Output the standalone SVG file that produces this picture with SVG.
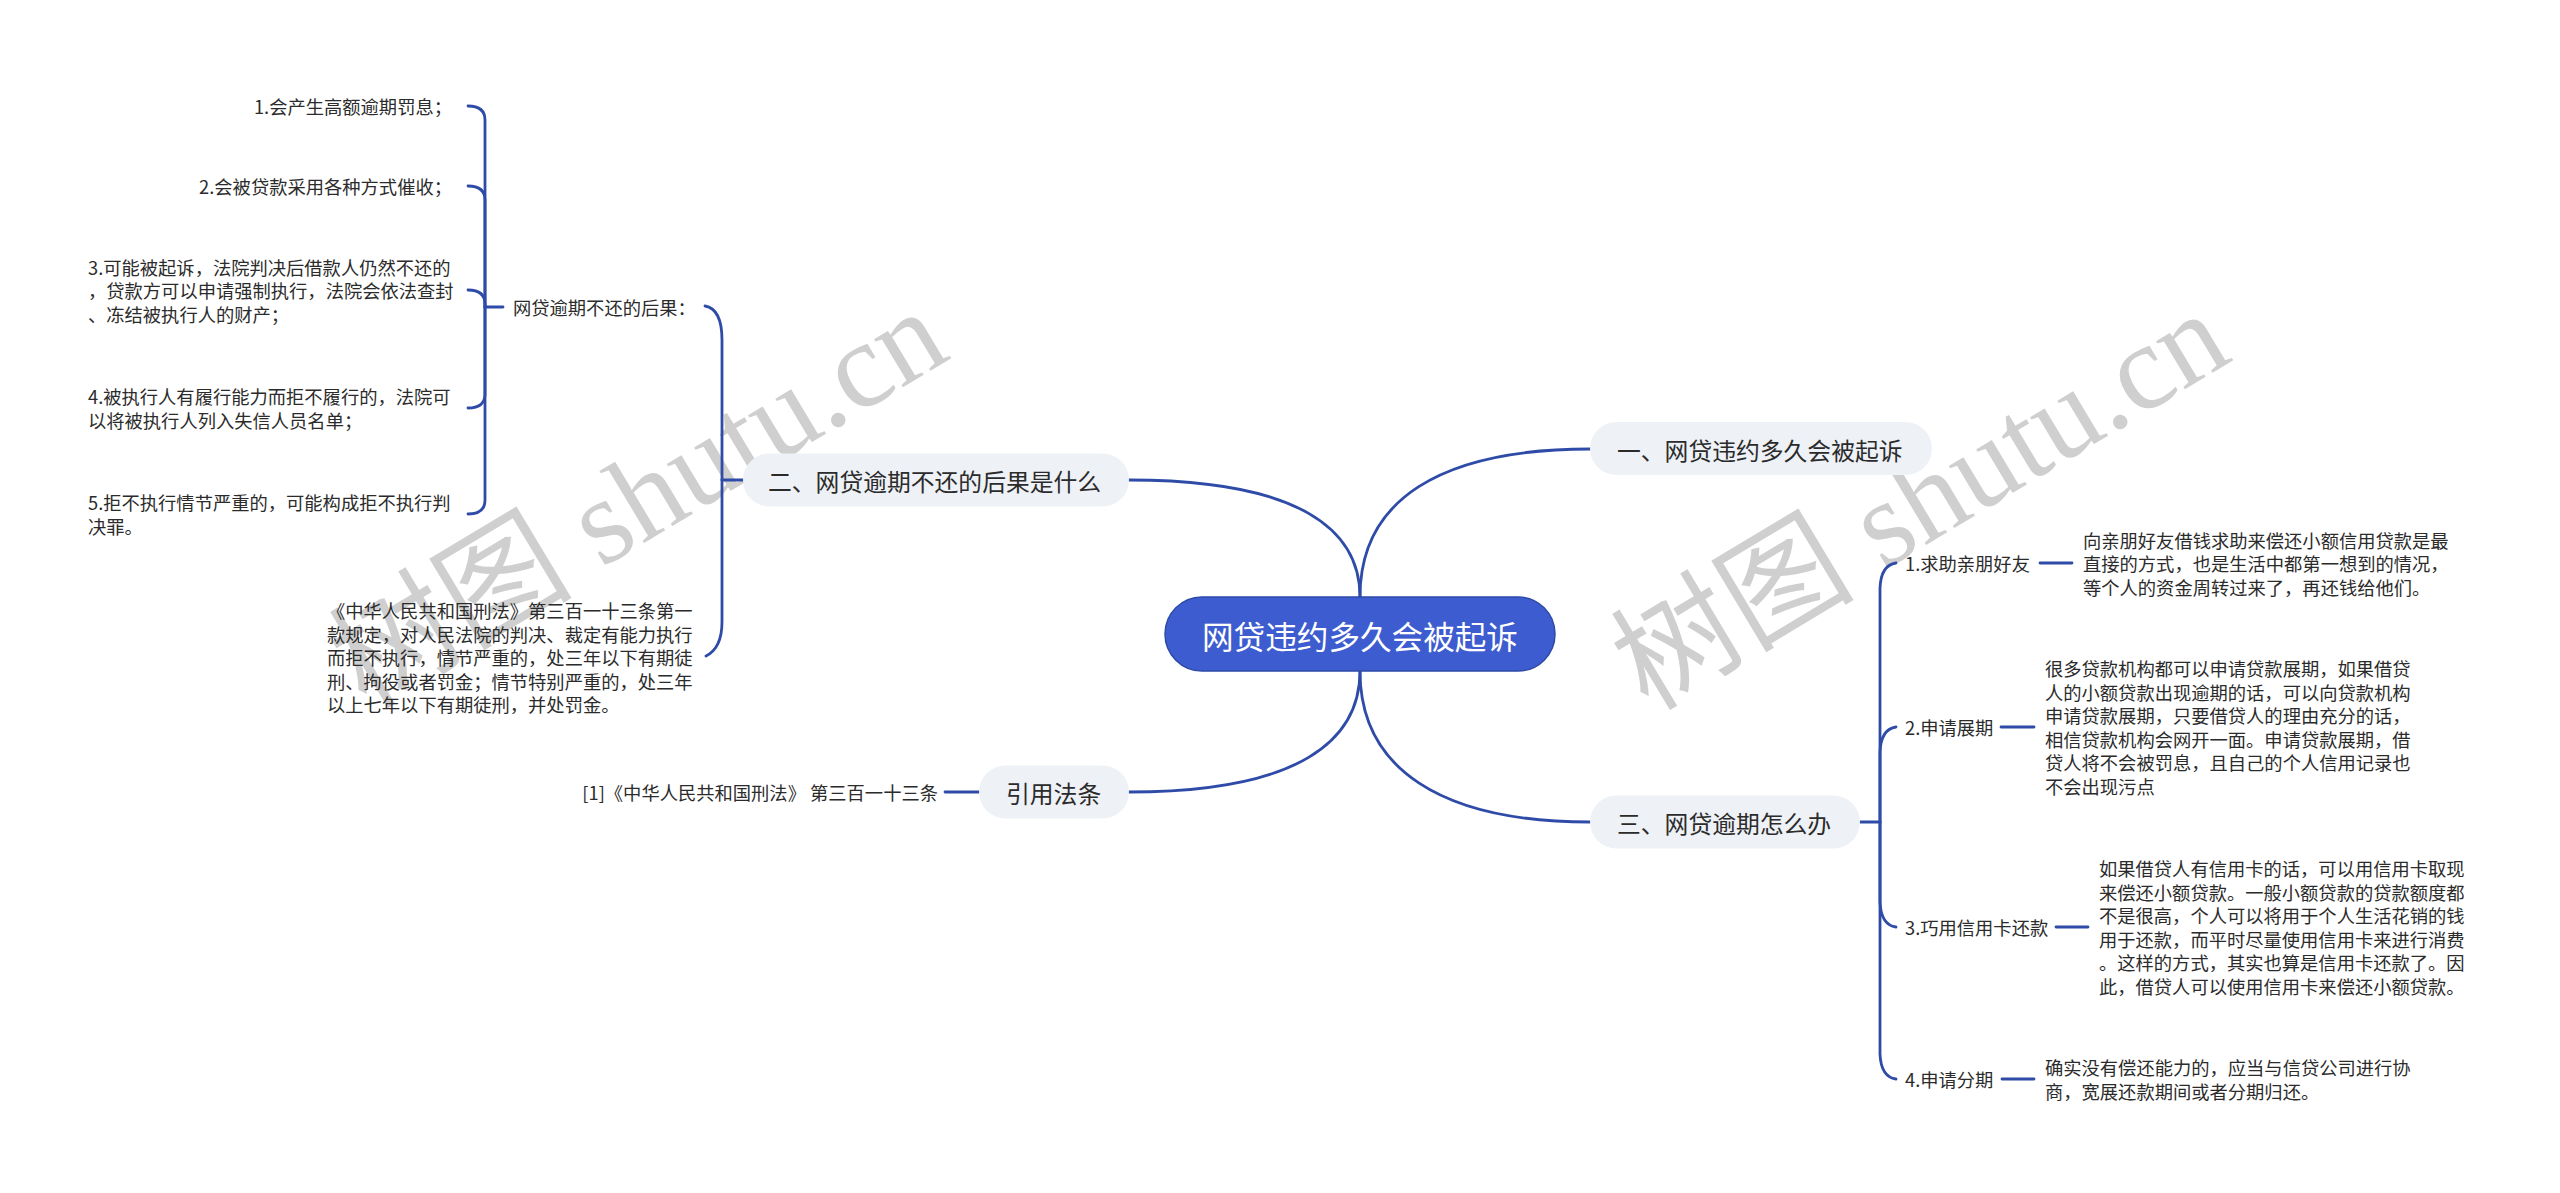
<svg xmlns="http://www.w3.org/2000/svg" width="2560" height="1193" viewBox="0 0 2560 1193">
<style>
.t{font-family:"Noto Sans CJK SC","Noto Sans",sans-serif;fill:#2b2b2b;font-size:18.3px;dominant-baseline:central}
.p{font-family:"Noto Sans CJK SC","Noto Sans",sans-serif;fill:#2b2b2b;font-size:23.8px;dominant-baseline:central}
.pill{fill:#eef1f6}
.c{fill:none;stroke:#2f4ba8;stroke-width:2.8;stroke-linecap:round}
.wm{font-family:"Liberation Serif","Noto Sans CJK SC",serif;fill:#cfcfcf;font-size:122px}
</style>
<rect width="2560" height="1193" fill="#ffffff"/>
<g id="watermarks">
<text class="wm" transform="translate(366,710) rotate(-31)">树图 shutu.cn</text>
<text class="wm" transform="translate(1648,712) rotate(-31)">树图 shutu.cn</text>
</g>
<g id="connectors">
<path class="c" d="M1360 597 C1360 500,1440 449,1590 449"/>
<path class="c" d="M1360 597 C1360 530,1300 480,1129 480"/>
<path class="c" d="M1360 671 C1360 768,1440 822,1590 822"/>
<path class="c" d="M1360 671 C1360 740,1300 792,1129 792"/>
<path class="c" d="M743 480 L722 480"/>
<path class="c" d="M722 480 L722 340 Q722 309 705 306"/>
<path class="c" d="M722 480 L722 622 Q722 648 706 656"/>
<path class="c" d="M503 307 L485 307"/>
<path class="c" d="M485 307 L485 120 Q485 106 468 106"/>
<path class="c" d="M485 307 L485 200 Q485 186 468 186"/>
<path class="c" d="M485 307 L485 304 Q485 290 468 290"/>
<path class="c" d="M485 307 L485 394 Q485 408 468 408"/>
<path class="c" d="M485 307 L485 500 Q485 514 468 514"/>
<path class="c" d="M945 792 L979 792"/>
<path class="c" d="M1860 822 L1880 822"/>
<path class="c" d="M1880 822 L1880 588 Q1881 565 1896 563"/>
<path class="c" d="M1880 822 L1880 752 Q1881 729 1896 727"/>
<path class="c" d="M1880 822 L1880 902 Q1881 925 1896 927"/>
<path class="c" d="M1880 822 L1880 1054 Q1881 1077 1896 1079"/>
<path class="c" d="M2040 563 L2072 563"/>
<path class="c" d="M2001 727 L2034 727"/>
<path class="c" d="M2056 927 L2088 927"/>
<path class="c" d="M2002 1079 L2034 1079"/>
</g>
<g id="root">
<rect x="1165" y="597" width="390" height="74" rx="37" fill="#3d5ccf" stroke="#2e4aa6" stroke-width="1.5"/>
<text x="1360" y="635" text-anchor="middle" font-family="Noto Sans CJK SC,sans-serif" font-size="31.6" fill="#ffffff" dominant-baseline="central">网贷违约多久会被起诉</text>
</g>
<g id="branch1">
<rect class="pill" x="1590" y="422" width="342" height="53" rx="26.5"/>
<text class="p" x="1617" y="449">一、网贷违约多久会被起诉</text>
</g>
<g id="branch2">
<rect class="pill" x="743" y="453.5" width="386" height="53" rx="26.5"/>
<text class="p" x="768" y="480">二、网贷逾期不还的后果是什么</text>
</g>
<g id="branch3">
<rect class="pill" x="1590" y="795.5" width="270" height="53" rx="26.5"/>
<text class="p" x="1617" y="822">三、网贷逾期怎么办</text>
</g>
<g id="branch4">
<rect class="pill" x="979" y="765.5" width="150" height="53" rx="26.5"/>
<text class="p" x="1006" y="792">引用法条</text>
</g>
<g id="consequences">
<text class="t" x="513" y="307">网贷逾期不还的后果：</text>
</g>
<g id="item1"><text class="t" x="452" y="106" text-anchor="end">1.会产生高额逾期罚息；</text></g>
<g id="item2"><text class="t" x="452" y="186" text-anchor="end">2.会被贷款采用各种方式催收；</text></g>
<g id="item3"><text class="t" x="88"><tspan x="88" y="266.5">3.可能被起诉，法院判决后借款人仍然不还的</tspan><tspan x="88" y="290">，贷款方可以申请强制执行，法院会依法查封</tspan><tspan x="88" y="313.5">、冻结被执行人的财产；</tspan></text></g>
<g id="item4"><text class="t" x="88"><tspan x="88" y="396">4.被执行人有履行能力而拒不履行的，法院可</tspan><tspan x="88" y="419.5">以将被执行人列入失信人员名单；</tspan></text></g>
<g id="item5"><text class="t" x="88"><tspan x="88" y="502">5.拒不执行情节严重的，可能构成拒不执行判</tspan><tspan x="88" y="525.5">决罪。</tspan></text></g>
<g id="law"><text class="t" x="327"><tspan x="327" y="610">《中华人民共和国刑法》第三百一十三条第一</tspan><tspan x="327" y="633.5">款规定，对人民法院的判决、裁定有能力执行</tspan><tspan x="327" y="657">而拒不执行，情节严重的，处三年以下有期徒</tspan><tspan x="327" y="680.5">刑、拘役或者罚金；情节特别严重的，处三年</tspan><tspan x="327" y="704">以上七年以下有期徒刑，并处罚金。</tspan></text></g>
<g id="ref"><text class="t" x="938" y="792" text-anchor="end">[1]《中华人民共和国刑法》 第三百一十三条</text></g>
<g id="m1"><text class="t" x="1905" y="563">1.求助亲朋好友</text></g>
<g id="m1d"><text class="t" x="2083"><tspan x="2083" y="539.5">向亲朋好友借钱求助来偿还小额信用贷款是最</tspan><tspan x="2083" y="563">直接的方式，也是生活中都第一想到的情况，</tspan><tspan x="2083" y="586.5">等个人的资金周转过来了，再还钱给他们。</tspan></text></g>
<g id="m2"><text class="t" x="1905" y="727">2.申请展期</text></g>
<g id="m2d"><text class="t" x="2045"><tspan x="2045" y="668.25">很多贷款机构都可以申请贷款展期，如果借贷</tspan><tspan x="2045" y="691.75">人的小额贷款出现逾期的话，可以向贷款机构</tspan><tspan x="2045" y="715.25">申请贷款展期，只要借贷人的理由充分的话，</tspan><tspan x="2045" y="738.75">相信贷款机构会网开一面。申请贷款展期，借</tspan><tspan x="2045" y="762.25">贷人将不会被罚息，且自己的个人信用记录也</tspan><tspan x="2045" y="785.75">不会出现污点</tspan></text></g>
<g id="m3"><text class="t" x="1905" y="927">3.巧用信用卡还款</text></g>
<g id="m3d"><text class="t" x="2099"><tspan x="2099" y="868.25">如果借贷人有信用卡的话，可以用信用卡取现</tspan><tspan x="2099" y="891.75">来偿还小额贷款。一般小额贷款的贷款额度都</tspan><tspan x="2099" y="915.25">不是很高，个人可以将用于个人生活花销的钱</tspan><tspan x="2099" y="938.75">用于还款，而平时尽量使用信用卡来进行消费</tspan><tspan x="2099" y="962.25">。这样的方式，其实也算是信用卡还款了。因</tspan><tspan x="2099" y="985.75">此，借贷人可以使用信用卡来偿还小额贷款。</tspan></text></g>
<g id="m4"><text class="t" x="1905" y="1079">4.申请分期</text></g>
<g id="m4d"><text class="t" x="2045"><tspan x="2045" y="1067.25">确实没有偿还能力的，应当与信贷公司进行协</tspan><tspan x="2045" y="1090.75">商，宽展还款期间或者分期归还。</tspan></text></g>
</svg>
